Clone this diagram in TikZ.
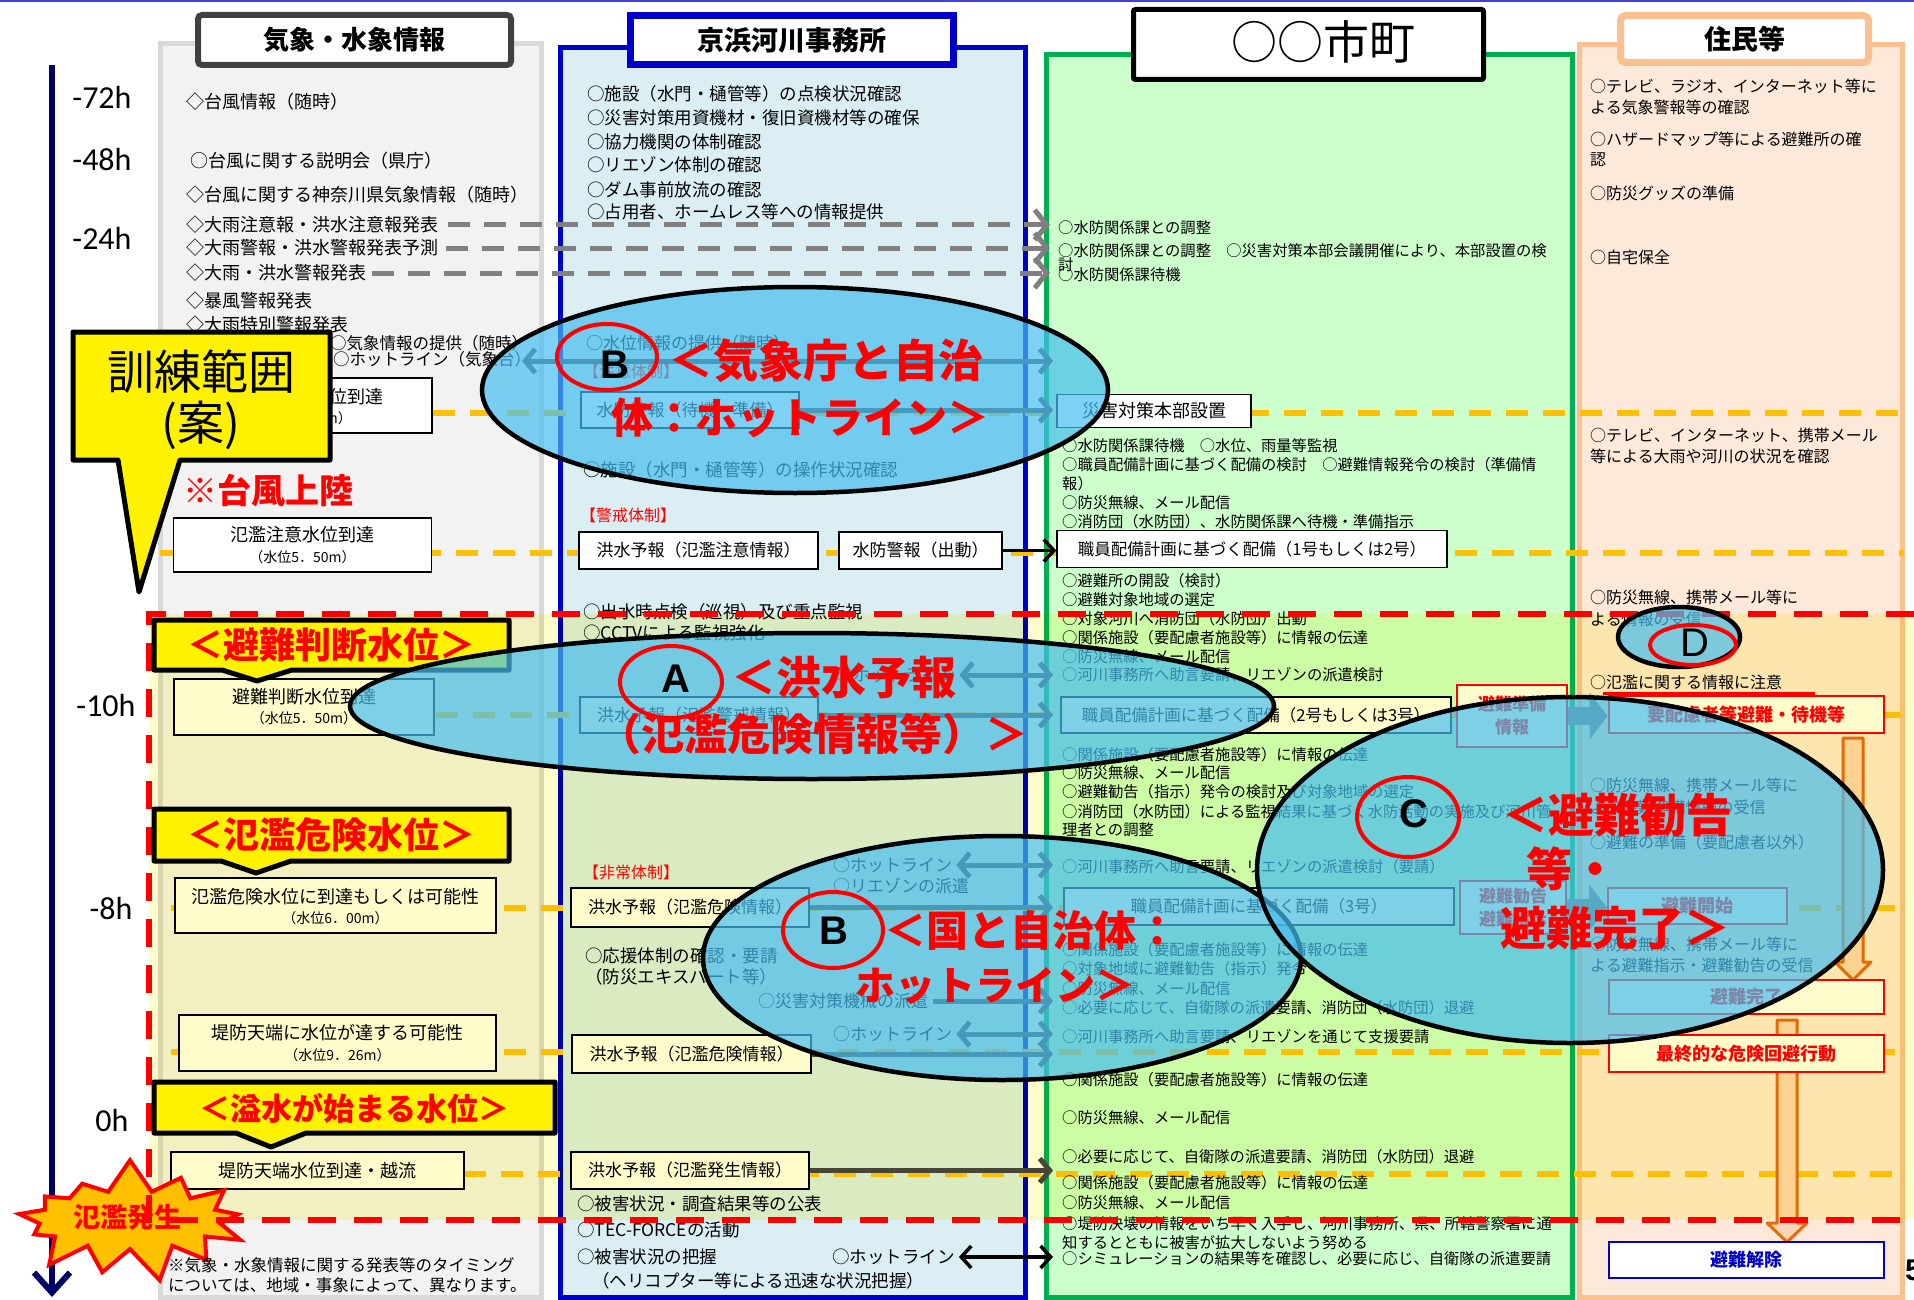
\documentclass[tikz,border=0pt]{standalone}
\usepackage{fontspec}
\setmainfont{Noto Sans CJK JP}
\newfontfamily\numf{Carlito}
\newfontfamily\latf{Liberation Sans}
\usetikzlibrary{arrows.meta,shapes.geometric,shapes.symbols}
\newcommand\myfs[1]{\fontsize{#1}{#1}\selectfont}
\definecolor{axnavy}{RGB}{0,0,102}
\definecolor{cAf}{RGB}{242,242,242}
\definecolor{cAb}{RGB}{217,217,217}
\definecolor{cAh}{RGB}{64,64,64}
\definecolor{cBf}{RGB}{218,238,243}
\definecolor{cBb}{RGB}{0,0,204}
\definecolor{cCf}{RGB}{204,255,204}
\definecolor{cCb}{RGB}{0,176,80}
\definecolor{cDf}{RGB}{253,233,217}
\definecolor{cDb}{RGB}{250,192,144}
\definecolor{orD}{RGB}{255,192,0}
\definecolor{grD}{RGB}{128,128,128}
\definecolor{hlb}{RGB}{70,190,240}
\definecolor{oarF}{RGB}{251,213,181}
\definecolor{oarB}{RGB}{228,108,10}
\definecolor{topl}{RGB}{64,64,224}
\tikzset{
 tA/.style={anchor=west, inner sep=0pt, font=\myfs{18}},
 tA2/.style={anchor=west, inner sep=0pt, font=\myfs{16.5}},
 tB/.style={anchor=west, inner sep=0pt, font=\myfs{17.5}},
 tBs/.style={anchor=west, inner sep=0pt, font=\myfs{17}},
 tR/.style={anchor=west, inner sep=0pt, font=\myfs{16}, text=red},
 tC/.style={anchor=west, inner sep=0pt, font=\myfs{15.3}},
 tD/.style={anchor=west, inner sep=0pt, font=\myfs{16}},
 tk/.style={inner sep=0pt, font=\myfs{18}},
 tks/.style={inner sep=0pt, font=\myfs{14}},
 tm/.style={inner sep=0pt, font=\numf\myfs{32}},
 bx/.style={draw=black, line width=1.5pt, fill=white, inner sep=0pt},
 rbx/.style={draw=red, line width=2pt, fill=white, inner sep=0pt, text=red, font=\bfseries\myfs{18}},
 odash/.style={draw=orD, line width=6pt, dash pattern=on 22pt off 15pt},
 gdash/.style={draw=grD, line width=5pt, dash pattern=on 22pt off 14pt, -{Straight Barb[length=12pt,width=30pt]}},
 darr/.style={draw=gray!55!black, line width=5pt, -{Straight Barb[length=10pt,width=24pt]}},
 dbarr/.style={draw=gray!55!black, line width=5pt, {Straight Barb[length=10pt,width=24pt]}-{Straight Barb[length=10pt,width=24pt]}},
 barr/.style={draw=black, line width=3.5pt, -{Straight Barb[length=10pt,width=22pt]}},
 bdarr/.style={draw=black, line width=3.5pt, {Straight Barb[length=10pt,width=22pt]}-{Straight Barb[length=10pt,width=22pt]}},
 blk/.style={draw=gray, line width=18pt, -{Triangle[length=18pt,width=46pt]}},
 oarr/.style={draw=oarB, fill=oarF, line width=3pt, line join=round},
 rdash/.style={draw=red, line width=6pt, dash pattern=on 28pt off 18pt},
 banner/.style={draw=black, line width=5pt, fill=yellow, line join=round},
 bnt/.style={inner sep=0pt, text=red, font=\bfseries\myfs{36}},
 hlE/.style={ellipse, draw=black, line width=4.5pt, fill=hlb, fill opacity=0.7, inner sep=0pt},
 rc/.style={ellipse, draw=red, line width=4pt, inner sep=0pt},
 rt/.style={inner sep=0pt, text=red, font=\bfseries\myfs{45}},
 lt/.style={inner sep=0pt, font=\latf\bfseries\myfs{40}},
}
\begin{document}
\begin{tikzpicture}[x=1pt,y=-1pt]
\useasboundingbox (0,0) rectangle (1914,1300);
\fill[white] (0,0) rectangle (1914,1300);
\draw[topl, line width=2pt] (0,1) -- (1914,1);

% panels
\draw[draw=cAb, fill=cAf, line width=5pt] (160,44) rectangle (541,1297);
\draw[draw=cBb, fill=cBf, line width=5pt] (560,48) rectangle (1025,1297);
\draw[draw=cCb, fill=cCf, line width=5pt] (1046,55) rectangle (1572,1297);
\draw[draw=cDb, fill=cDf, line width=5pt] (1579,45) rectangle (1902,1297);

% headers
\node[draw=cAh, line width=6pt, fill=white, rounded corners=4pt, minimum width=313pt, minimum height=50pt, inner sep=0pt, font=\bfseries\myfs{26}] (hA) at (354.5,40) {気象・水象情報};
\node[draw=cBb, line width=7pt, fill=white, minimum width=323pt, minimum height=49pt, inner sep=0pt, font=\bfseries\myfs{27}] (hB) at (792,40) {京浜河川事務所};
\node[draw=black, line width=5pt, fill=white, rounded corners=2pt, minimum width=350pt, minimum height=70pt, inner sep=0pt] (hC) at (1308.5,44.5) {};
\node[inner sep=0pt, font=\myfs{46}] (hCt) at (1323,42) {○○市町};
\node[draw=cDb, line width=7pt, fill=white, rounded corners=5pt, minimum width=248pt, minimum height=47pt, inner sep=0pt, font=\bfseries\myfs{27}] (hD) at (1744.5,39) {住民等};

% time axis
\coordinate (axtop) at (52,65);
\coordinate (axbot) at (52,1297);
\draw[axnavy, line width=6pt, -{Straight Barb[length=20pt,width=36pt]}] (axtop) -- (axbot);
\node[tm] (t72) at (102,97) {-72h};
\node[tm] (t48) at (102,160) {-48h};
\node[tm] (t24) at (102,238) {-24h};
\node[tm] (t10) at (106,705) {-10h};
\node[tm] (t8) at (111,908) {-8h};
\node[tm] (t0) at (112,1120) {0h};

% orange dashed level lines
\draw[odash] (433,413) -- (1904,413);
\draw[odash] (160,553) -- (1904,553);
\draw[odash] (436,715) -- (1904,715);
\draw[odash] (171,908) -- (1904,908);
\draw[odash] (171,1052) -- (1904,1052);
\draw[odash] (464,1174) -- (1904,1174);

% column 1 texts
\node[tA] (a1) at (186,102) {◇台風情報（随時）};
\node[tA] (a2) at (190,161) {○台風に関する説明会（県庁）};
\node[tA] (a3) at (186,195) {◇台風に関する神奈川県気象情報（随時）};
\node[tA] (a4) at (186,225) {◇大雨注意報・洪水注意報発表};
\node[tA] (a5) at (186,248) {◇大雨警報・洪水警報発表予測};
\node[tA] (a6) at (186,273) {◇大雨・洪水警報発表};
\node[tA] (a7) at (186,301) {◇暴風警報発表};
\node[tA] (a8) at (186,325) {◇大雨特別警報発表};
\node[tA2] (a9) at (330,343) {○気象情報の提供（随時）};
\node[tA2] (a10) at (333,359) {○ホットライン（気象台）};

% gray dashed lines
\coordinate (g1) at (1050,225);
\coordinate (g2) at (1050,248);
\coordinate (g3) at (1050,273);
\draw[gdash] ([xshift=10pt]a4.east) -- (g1);
\draw[gdash] ([xshift=8pt]a5.east) -- (g2);
\draw[gdash] ([xshift=6pt]a6.east) -- (g3);

% column 1 boxes
\node[bx, minimum width=257pt, minimum height=55pt] (k0) at (303.5,405.5) {};
\node[tk, anchor=east] (k0a) at (384,397) {位到達};
\node[tks, anchor=east] (k0b) at (352,418) {m）};
\node[bx, minimum width=258pt, minimum height=54pt] (k1) at (302.5,545) {};
\node[tk] (k1a) at (302.5,535) {氾濫注意水位到達};
\node[tks] (k1b) at (302.5,557) {（水位5．50m）};
\node[bx, minimum width=260pt, minimum height=56pt] (k2) at (304,707) {};
\node[tk] (k2a) at (304,697) {避難判断水位到達};
\node[tks] (k2b) at (304,718) {（水位5．50m）};
\node[bx, minimum width=321pt, minimum height=55pt] (k3) at (335.5,905.5) {};
\node[tk] (k3a) at (335.5,897) {氾濫危険水位に到達もしくは可能性};
\node[tks] (k3b) at (335.5,918) {（水位6．00m）};
\node[bx, minimum width=317pt, minimum height=56pt] (k4) at (337.5,1043) {};
\node[tk] (k4a) at (337.5,1033) {堤防天端に水位が達する可能性};
\node[tks] (k4b) at (337.5,1055) {（水位9．26m）};
\node[bx, minimum width=293pt, minimum height=37pt, font=\myfs{18}] (k5) at (317.5,1170.5) {堤防天端水位到達・越流};

% column 2 texts and boxes
\node[tB] (b1) at (587,94) {○施設（水門・樋管等）の点検状況確認};
\node[tB] (b2) at (587,118) {○災害対策用資機材・復旧資機材等の確保};
\node[tB] (b3) at (587,142) {○協力機関の体制確認};
\node[tB] (b4) at (587,165) {○リエゾン体制の確認};
\node[tB] (b5) at (587,190) {○ダム事前放流の確認};
\node[tB] (b6) at (587,212) {○占用者、ホームレス等への情報提供};
\node[tBs] (b7) at (586,343) {○水位情報の提供（随時）};
\node[tR] (r1) at (583,371) {【注意体制】};
\node[bx, minimum width=218pt, minimum height=36pt, font=\myfs{17}] (bx1) at (690,410) {水防警報（待機・準備）};
\node[tB] (b8) at (583,470) {○施設（水門・樋管等）の操作状況確認};
\node[tR] (r2) at (580,515) {【警戒体制】};
\node[bx, minimum width=239pt, minimum height=37pt, font=\myfs{17}] (bx2) at (698.5,550.5) {洪水予報（氾濫注意情報）};
\node[bx, minimum width=163pt, minimum height=37pt, font=\myfs{17}] (bx3) at (920.5,550.5) {水防警報（出動）};
\node[tB] (b9) at (583,612) {○出水時点検（巡視）及び重点監視};
\node[tB] (b10) at (583,633) {○CCTVによる監視強化};
\node[tBs] (hl1) at (836,675) {○ホットライン};
\node[bx, minimum width=238pt, minimum height=36pt, font=\myfs{17}] (bx4) at (699,715) {洪水予報（氾濫警戒情報）};
\node[tR] (r3) at (583,872) {【非常体制】};
\node[tBs] (hl2) at (833,865) {○ホットライン};
\node[tBs] (b11) at (833,886) {○リエゾンの派遣};
\node[bx, minimum width=238pt, minimum height=39pt, font=\myfs{17}] (bx5) at (690,907.5) {洪水予報（氾濫危険情報）};
\node[tB] (b12) at (585,956) {○応援体制の確認・要請};
\node[tB] (b13) at (585,977) {（防災エキスパート等）};
\node[tBs] (sm) at (758,1001) {○災害対策機械の派遣};
\node[tBs] (hl3) at (833,1034) {○ホットライン};
\node[bx, minimum width=239pt, minimum height=38pt, font=\myfs{17}] (bx6) at (691.5,1054) {洪水予報（氾濫危険情報）};
\node[bx, minimum width=238pt, minimum height=37pt, font=\myfs{17}] (bx7) at (690,1170.5) {洪水予報（氾濫発生情報）};
\node[tB] (b14) at (577,1204) {○被害状況・調査結果等の公表};
\node[tB] (b15) at (577,1230) {○TEC-FORCEの活動};
\node[tB] (b16) at (577,1257) {○被害状況の把握};
\node[tB] (b17) at (592,1281) {（ヘリコプター等による迅速な状況把握）};
\node[tB] (hl4) at (832,1257) {○ホットライン};

% column 3 texts and boxes
\node[tC] (c1) at (1058,228) {○水防関係課との調整};
\node[tC] (c2) at (1058,251) {○水防関係課との調整　○災害対策本部会議開催により、本部設置の検};
\node[tC] (c2b) at (1058,265) {討};
\node[tC] (c3) at (1058,275) {○水防関係課待機};
\node[bx, minimum width=194pt, minimum height=33pt, font=\myfs{18}] (cb1) at (1154,411) {災害対策本部設置};
\node[tC] (c4) at (1062,446) {○水防関係課待機　○水位、雨量等監視};
\node[tC] (c5) at (1062,465) {○職員配備計画に基づく配備の検討　○避難情報発令の検討（準備情};
\node[tC] (c6) at (1062,484) {報）};
\node[tC] (c7) at (1062,503) {○防災無線、メール配信};
\node[tC] (c8) at (1062,522) {○消防団（水防団）、水防関係課へ待機・準備指示};
\node[bx, minimum width=390pt, minimum height=37pt, font=\myfs{16.5}] (cb2) at (1252,549) {職員配備計画に基づく配備（1号もしくは2号）};
\node[tC] (c9) at (1062,581) {○避難所の開設（検討）};
\node[tC] (c10) at (1062,600) {○避難対象地域の選定};
\node[tC] (c11) at (1062,619) {○対象河川へ消防団（水防団）出動};
\node[tC] (c12) at (1062,638) {○関係施設（要配慮者施設等）に情報の伝達};
\node[tC] (c13) at (1062,657) {○防災無線、メール配信};
\node[tC] (c14) at (1062,675) {○河川事務所へ助言要請、リエゾンの派遣検討};
\node[bx, minimum width=390pt, minimum height=36pt, font=\myfs{16.5}] (cb3) at (1256,715) {職員配備計画に基づく配備（2号もしくは3号）};
\node[rbx, minimum width=110pt, minimum height=62pt, align=center, font=\bfseries\fontsize{17}{23}\selectfont] (cb5) at (1512,716) {避難準備\\情報};
\node[tC] (c15) at (1062,755) {○関係施設（要配慮者施設等）に情報の伝達};
\node[tC] (c16) at (1062,773) {○防災無線、メール配信};
\node[tC] (c17) at (1062,792) {○避難勧告（指示）発令の検討及び対象地域の選定};
\node[tC] (c18) at (1062,812) {○消防団（水防団）による監視結果に基づく水防活動の実施及び河川管};
\node[tC] (c19) at (1062,830) {理者との調整};
\node[tC] (c20) at (1062,867) {○河川事務所へ助言要請、リエゾンの派遣検討（要請）};
\node[bx, minimum width=390pt, minimum height=37pt, font=\myfs{16.5}] (cb4) at (1259,906.5) {職員配備計画に基づく配備（3号）};
\node[rbx, minimum width=106pt, minimum height=53pt, align=center, font=\bfseries\fontsize{17}{23}\selectfont] (cb6) at (1513,907.5) {避難勧告\\避難指示};
\node[tC] (c21) at (1062,950) {○関係施設（要配慮者施設等）に情報の伝達};
\node[tC] (c22) at (1062,969) {○対象地域に避難勧告（指示）発令};
\node[tC] (c23) at (1062,989) {○防災無線、メール配信};
\node[tC] (c24) at (1062,1008) {○必要に応じて、自衛隊の派遣要請、消防団（水防団）退避};
\node[tC] (c25) at (1062,1037) {○河川事務所へ助言要請、リエゾンを通じて支援要請};
\node[tC] (c26) at (1062,1080) {○関係施設（要配慮者施設等）に情報の伝達};
\node[tC] (c27) at (1062,1118) {○防災無線、メール配信};
\node[tC] (c28) at (1062,1157) {○必要に応じて、自衛隊の派遣要請、消防団（水防団）退避};
\node[tC] (c29) at (1062,1183) {○関係施設（要配慮者施設等）に情報の伝達};
\node[tC] (c30) at (1062,1203) {○防災無線、メール配信};
\node[tC] (c31) at (1062,1224) {○堤防決壊の情報をいち早く入手し、河川事務所、県、所轄警察署に通};
\node[tC] (c32) at (1062,1243) {知するとともに被害が拡大しないよう努める};
\node[tC] (c33) at (1062,1259) {○シミュレーションの結果等を確認し、必要に応じ、自衛隊の派遣要請};

% column 4
\node[tD] (d1) at (1590,86) {○テレビ、ラジオ、インターネット等に};
\node[tD] (d2) at (1590,107) {よる気象警報等の確認};
\node[tD] (d3) at (1590,139) {○ハザードマップ等による避難所の確};
\node[tD] (d4) at (1590,160) {認};
\node[tD] (d5) at (1590,193) {○防災グッズの準備};
\node[tD] (d6) at (1590,257) {○自宅保全};
\node[tD] (d7) at (1590,435) {○テレビ、インターネット、携帯メール};
\node[tD] (d8) at (1590,456) {等による大雨や河川の状況を確認};
\node[tD] (d9) at (1590,597) {○防災無線、携帯メール等に};
\node[tD] (d10) at (1590,619) {よる情報の受信};
\node[tD] (d11) at (1590,682) {○氾濫に関する情報に注意};
\draw[red, line width=3pt] (1603,693) -- (1815,693);
\node[tD] (d12) at (1590,785) {○防災無線、携帯メール等に};
\node[tD] (d13) at (1590,807) {よる避難準備情報の受信};
\node[tD] (d14) at (1590,842) {○避難の準備（要配慮者以外）};
\node[tD] (d15) at (1590,944) {○防災無線、携帯メール等に};
\node[tD] (d16) at (1590,965) {よる避難指示・避難勧告の受信};
\draw[oarr] (1843,738) -- (1863,738) -- (1863,962) -- (1871,962) -- (1853,980) -- (1835,962) -- (1843,962) -- cycle;
\draw[oarr] (1777,1020) -- (1797,1020) -- (1797,1223) -- (1807,1223) -- (1787,1242) -- (1767,1223) -- (1777,1223) -- cycle;
\node[rbx, minimum width=275pt, minimum height=37pt] (rb1) at (1746,714.5) {要配慮者等避難・待機等};
\node[rbx, minimum width=179pt, minimum height=36pt] (rb2) at (1697.5,906) {避難開始};
\node[rbx, minimum width=275pt, minimum height=34pt] (rb3) at (1746,997) {避難完了};
\node[rbx, minimum width=275pt, minimum height=37pt] (rb4) at (1746,1053.5) {最終的な危険回避行動};
\node[rbx, draw=cBb, text=cBb, minimum width=275pt, minimum height=36pt] (rb5) at (1746,1260) {避難解除};

% connectors col2 -> col3
\coordinate (q1) at (522,361);
\coordinate (q1e) at (1053,361);
\draw[dbarr] (q1) -- (q1e);
\draw[darr] (bx1.east) -- (bx1.east -| q1e);
\draw[barr] (bx3.east) -- (bx3.east -| cb2.west);
\draw[dbarr] ([xshift=4pt]hl1.east) -- (hl1.east -| q1e);
\draw[darr] (bx4.east) -- (bx4.east -| q1e);
\draw[dbarr] ([xshift=4pt]hl2.east) -- (hl2.east -| q1e);
\draw[darr] (bx5.east) -- (bx5.east -| q1e);
\draw[darr] ([xshift=5pt]sm.east) -- (sm.east -| q1e);
\draw[dbarr] ([xshift=4pt]hl3.east) -- (hl3.east -| q1e);
\draw[darr] (bx6.east) -- (bx6.east -| q1e);
\draw[darr] (bx7.east) -- (bx7.east -| q1e);
\draw[bdarr] ([xshift=4pt]hl4.east) -- (hl4.east -| q1e);
\draw[blk] (cb5.east) -- (cb5.east -| rb1.west);
\draw[blk] (cb6.east) -- (cb6.east -| rb2.west);

% explosion
\node[starburst, draw=red, line width=4pt, fill=orD, minimum width=250pt, minimum height=126pt, starburst points=13, starburst point height=34pt, random starburst=7] (boom) at (130,1220) {};
\node[inner sep=0pt, text=red, font=\bfseries\myfs{27}] (boomt) at (127,1217) {氾濫発生};

% yellow training-range overlay
\fill[yellow, fill opacity=0.2, blend mode=multiply] (149,614) rectangle (1914,1220);
\draw[rdash] (1914,614) -- (149,614) -- (149,1220) -- (1914,1220);

% banners
\draw[banner] (154,620) -- (509,620) -- (509,670) -- (292,670) -- (257,681) -- (222,670) -- (154,670) -- cycle;
\node[bnt] (bt1) at (331,645) {＜避難判断水位＞};
\draw[banner] (154,809) -- (509,809) -- (509,861) -- (291,861) -- (256,873) -- (221,861) -- (154,861) -- cycle;
\node[bnt] (bt2) at (331,835) {＜氾濫危険水位＞};
\draw[banner] (154,1082) -- (555,1082) -- (555,1133) -- (306,1133) -- (271,1147) -- (236,1133) -- (154,1133) -- cycle;
\node[bnt, font=\bfseries\myfs{31}] (bt3) at (354,1108) {＜溢水が始まる水位＞};

% training callout
\draw[banner] (73,332) -- (330,332) -- (330,460) -- (180,460) -- (139,592) -- (118,460) -- (73,460) -- cycle;
\node[inner sep=0pt, font=\myfs{47}] (cl1) at (201,372) {訓練範囲};
\node[inner sep=0pt, font=\myfs{47}] (cl2) at (201,425) {(案)};
\node[inner sep=0pt, text=red, font=\bfseries\myfs{34}] (typh) at (268,490) {※台風上陸};

% highlight ellipses
\node[hlE, minimum width=626pt, minimum height=206pt] (E1) at (795,390) {};
\node[hlE, minimum width=924pt, minimum height=146pt] (E2) at (812,706) {};
\node[hlE, minimum width=598pt, minimum height=244pt] (E3) at (1002,958) {};
\node[hlE, minimum width=626pt, minimum height=346pt] (E4) at (1570,870) {};
\node[hlE, minimum width=122pt, minimum height=60pt] (E5) at (1679,637) {};

\node[rc, minimum width=100pt, minimum height=66pt] (cB1) at (607,357) {};
\node[lt] (lB1) at (615,365) {B};
\node[rt] (tB1a) at (826,361) {＜気象庁と自治};
\node[rt, font=\bfseries\myfs{42}] (tB1b) at (800,418) {体：ホットライン＞};

\node[rc, minimum width=102pt, minimum height=72pt] (cA) at (671,682) {};
\node[lt] (lA) at (676,679) {A};
\node[rt] (tAa) at (844,677) {＜洪水予報};
\node[rt, font=\bfseries\myfs{43}] (tAb) at (813,734) {（氾濫危険情報等）＞};

\node[rc, minimum width=100pt, minimum height=76pt] (cB2) at (833,930) {};
\node[lt] (lB2) at (834,931) {B};
\node[rt, font=\bfseries\myfs{42}] (tB2a) at (1031,930) {＜国と自治体：};
\node[rt, font=\bfseries\myfs{40}] (tB2b) at (995,986) {ホットライン＞};

\node[rc, minimum width=102pt, minimum height=80pt] (cC) at (1408,817) {};
\node[lt] (lC) at (1414,814) {C};
\node[rt, font=\bfseries\myfs{46}] (tCa) at (1617,815) {＜避難勧告};
\node[rt, font=\bfseries\myfs{46}] (tCb) at (1572,869) {等・};
\node[rt, font=\bfseries\myfs{46}] (tCc) at (1615,928) {避難完了＞};

\node[rc, minimum width=86pt, minimum height=40pt] (cD) at (1693,645) {};
\node[inner sep=0pt, font=\latf\myfs{40}] (lD) at (1695,643) {D};

% notes
\node[anchor=west, inner sep=0pt, font=\myfs{16.5}] (n1) at (168,1265) {※気象・水象情報に関する発表等のタイミング};
\node[anchor=west, inner sep=0pt, font=\myfs{16.5}] (n2) at (168,1285) {については、地域・事象によって、異なります。};
\node[anchor=west, inner sep=0pt, font=\latf\bfseries\myfs{30}] (pg) at (1905,1270) {5};
\end{tikzpicture}
\end{document}
